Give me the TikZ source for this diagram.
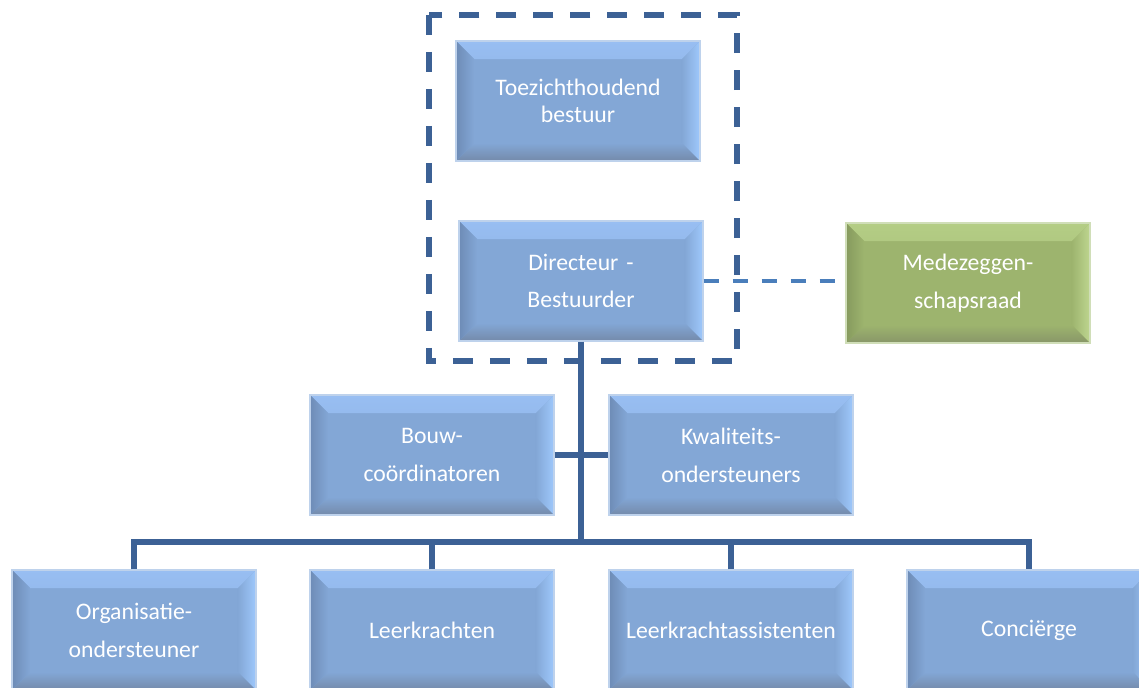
\documentclass[tikz,border=0pt]{standalone}
\usepackage{fontspec}
\setmainfont{Carlito}
\definecolor{bluefill}{RGB}{131,167,214}
\definecolor{bluetop}{RGB}{152,190,242}
\definecolor{blueright}{RGB}{158,200,252}
\definecolor{bluebottom}{RGB}{116,138,170}
\definecolor{blueleft}{RGB}{110,140,182}
\definecolor{blueline}{RGB}{190,210,236}
\definecolor{greenfill}{RGB}{157,180,110}
\definecolor{greentop}{RGB}{180,205,133}
\definecolor{greenright}{RGB}{190,214,144}
\definecolor{greenbottom}{RGB}{136,150,104}
\definecolor{greenleft}{RGB}{134,154,94}
\definecolor{greenline}{RGB}{208,222,184}
\definecolor{linecol}{RGB}{60,97,149}
\definecolor{linkcol}{RGB}{74,126,187}
\newcommand{\bevelfill}[1]{%
  \shade[top color=#1top, bottom color=#1fill] (path picture bounding box.north west) -- (path picture bounding box.north east)
    -- ([xshift=-0.36cm,yshift=-0.36cm]path picture bounding box.north east)
    -- ([xshift=0.36cm,yshift=-0.36cm]path picture bounding box.north west) -- cycle;
  \shade[right color=#1right, left color=#1fill] (path picture bounding box.north east) -- (path picture bounding box.south east)
    -- ([xshift=-0.36cm,yshift=0.36cm]path picture bounding box.south east)
    -- ([xshift=-0.36cm,yshift=-0.36cm]path picture bounding box.north east) -- cycle;
  \shade[bottom color=#1bottom, top color=#1fill] (path picture bounding box.south east) -- (path picture bounding box.south west)
    -- ([xshift=0.36cm,yshift=0.36cm]path picture bounding box.south west)
    -- ([xshift=-0.36cm,yshift=0.36cm]path picture bounding box.south east) -- cycle;
  \shade[left color=#1left, right color=#1fill] (path picture bounding box.south west) -- (path picture bounding box.north west)
    -- ([xshift=0.36cm,yshift=-0.36cm]path picture bounding box.north west)
    -- ([xshift=0.36cm,yshift=0.36cm]path picture bounding box.south west) -- cycle;}
\tikzset{
  orgbox/.style={minimum width=4.88cm, minimum height=2.4cm, inner sep=0pt,
    text width=4.6cm, align=center, text=white, font=\fontsize{13.5}{21.5}\selectfont,
    fill=#1fill, draw=#1line, line width=0.8pt,
    path picture={\bevelfill{#1}}},
  conn/.style={draw=linecol, line width=3pt},
  link/.style={draw=linkcol, line width=1.8pt, dash pattern=on 0.3cm off 0.28cm},
  frame/.style={draw=linecol, line width=3pt, dash pattern=on 0.4cm off 0.34cm}
}
\begin{document}
\begin{tikzpicture}[x=0.02cm,y=-0.02cm]
	\useasboundingbox (0,0) rectangle (1139,687);
	%--top: board and director
	\draw[frame] (429,15) rectangle (737,361);
	\node[orgbox=blue, font=\fontsize{13.5}{15.5}\selectfont] (toez) at (578,101) {Toezichthoudend\\bestuur};
	\node[orgbox=blue] (dir) at (581,281) {Directeur -\\Bestuurder};
	\node[orgbox=green] (mede) at (968,283) {Medezeggen-\\schapsraad};
	\draw[link] (dir.east) -- (dir.east -| mede.west);
	
	%--staff
	\node[orgbox=blue] (bouw) at (432,455) {Bouw-\\coördinatoren};
	\node[orgbox=blue] (kwal) at (731,455) {Kwaliteits-\\ondersteuners};
	\coordinate (bus) at (581,542);
	\draw[conn] (dir.south) -- (bus);
	\draw[conn] (bouw.east) -- (kwal.west);
	
	%--bottom row
	\node[orgbox=blue] (org) at (134,630) {Organisatie-\\ondersteuner};
	\node[orgbox=blue] (leer) at (432,630) {Leerkrachten};
	\node[orgbox=blue] (assist) at (731,630) {Leerkrachtassistenten};
	\node[orgbox=blue] (conc) at (1029,630) {Conciërge};
	\draw[conn] (org.north) |- (bus) -| (conc.north);
	\foreach \n in {leer, assist}
		\draw[conn] (\n.north) -- (\n.north |- bus);
\end{tikzpicture}
\end{document}
